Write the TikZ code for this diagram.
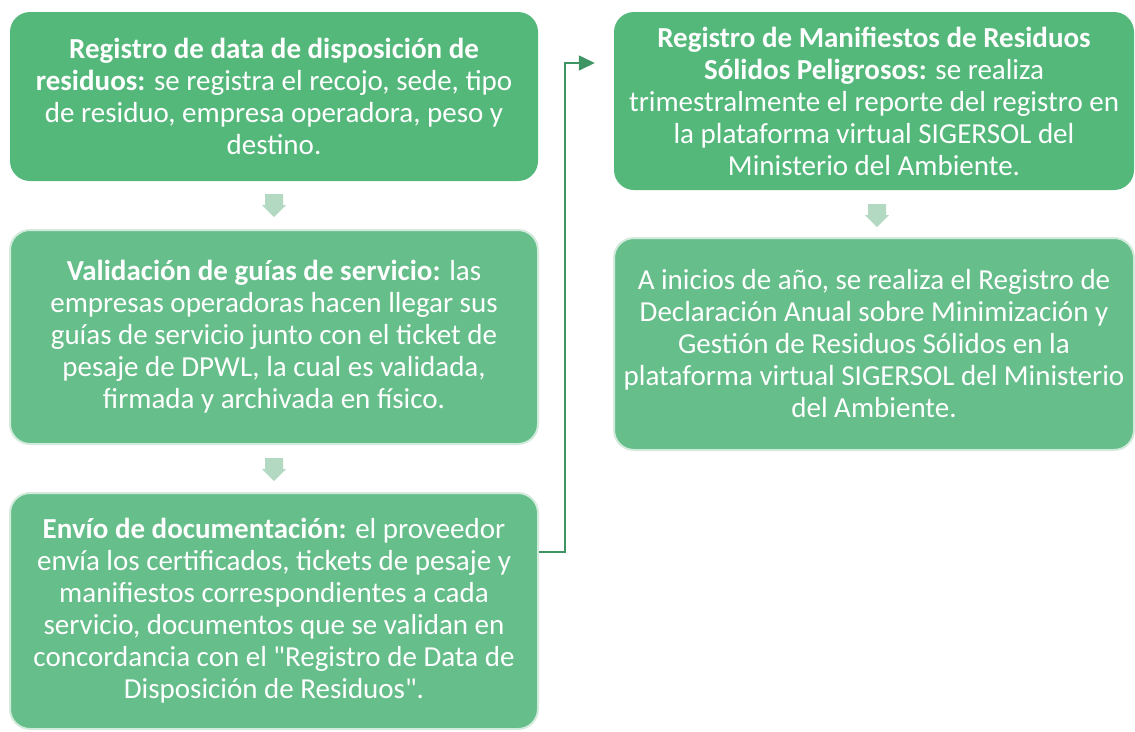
\documentclass[tikz,border=0pt]{standalone}
\usepackage{fontspec}
\setmainfont{Carlito}[Ligatures=TeXOff]
\usetikzlibrary{arrows.meta,calc}
\definecolor{verdefuerte}{HTML}{55B87B}
\definecolor{verdesuave}{HTML}{66BE8A}
\definecolor{verdeborde}{HTML}{D3EBDC}
\definecolor{verdeclaro}{HTML}{B4D9C2}
\definecolor{verdelinea}{HTML}{3F9463}
\tikzset{
	caja/.style={rounded corners=20pt,text=white,align=center,inner sep=2pt,
		font=\fontsize{29}{32}\selectfont},
	cajaA/.style={caja,fill=verdefuerte},
	cajaB/.style={caja,fill=verdesuave,draw=verdeborde,line width=2pt},
	bajar/.pic={\fill[verdeclaro] (-9,0)--(9,0)--(9,11)--(12,11)--(0,23)--(-12,11)--(-9,11)--cycle;},
	enlace/.style={draw=verdelinea,line width=1.4pt,-{Triangle[length=16pt,width=15pt]}}
}
\begin{document}
\begin{tikzpicture}[x=1pt,y=-1pt]
	\useasboundingbox (0,0) rectangle (1135,731);
	% columna izquierda
	\node[cajaA,minimum width=528pt,minimum height=169pt] (reg) at (274,96.5)
		{\textbf{Registro de data de disposición de}\\\textbf{residuos:} se registra el recojo, sede, tipo\\de residuo, empresa operadora, peso y\\destino.};
	\node[cajaB,minimum width=528pt,minimum height=214pt] (val) at (274,337)
		{\textbf{Validación de guías de servicio:} las\\empresas operadoras hacen llegar sus\\guías de servicio junto con el ticket de\\pesaje de DPWL, la cual es validada,\\firmada y archivada en físico.};
	\node[cajaB,minimum width=528pt,minimum height=236pt] (env) at (274,611)
		{\textbf{Envío de documentación:} el proveedor\\envía los certificados, tickets de pesaje y\\manifiestos correspondientes a cada\\servicio, documentos que se validan en\\concordancia con el "Registro de Data de\\Disposición de Residuos".};
	% columna derecha
	\node[cajaA,minimum width=520pt,minimum height=178pt] (man) at (874,101)
		{\textbf{Registro de Manifiestos de Residuos}\\\textbf{Sólidos Peligrosos:} se realiza\\trimestralmente el reporte del registro en\\la plataforma virtual SIGERSOL del\\Ministerio del Ambiente.};
	\node[cajaB,minimum width=520pt,minimum height=212pt] (dec) at (874,344)
		{A inicios de año, se realiza el Registro de\\Declaración Anual sobre Minimización y\\Gestión de Residuos Sólidos en la\\plataforma virtual SIGERSOL del Ministerio\\del Ambiente.};
	% flechas
	\pic at ($(reg.south)+(0,13)$) {bajar};
	\pic at ($(val.south)+(0,13)$) {bajar};
	\pic at ($(man.south)+(3,14)$) {bajar};
	\draw[enlace] ([yshift=59pt]env.east) -- ++(26,0) |- ([xshift=-19pt,yshift=38pt]man.west);
\end{tikzpicture}
\end{document}
